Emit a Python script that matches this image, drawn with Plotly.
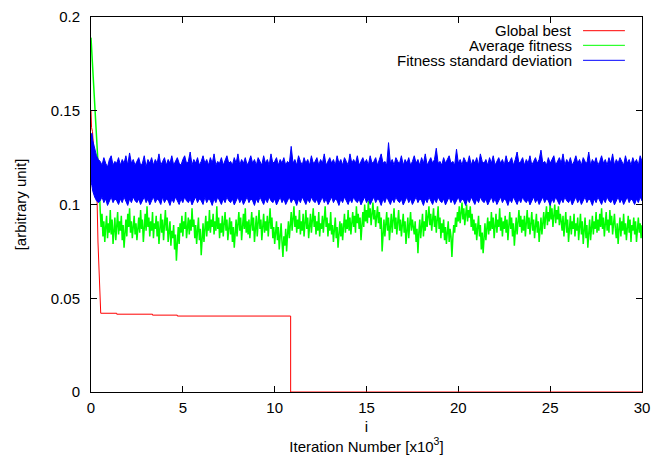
import numpy as np
import plotly.graph_objects as go

# ---------------- data (iteration in units of 10^3) ----------------
# Global best (red)
best_x = [0, 0.03, 0.08, 0.15, 0.25, 0.33, 0.38, 0.45, 0.53, 1.4, 1.4, 3.35, 3.35,
          4.7, 4.7, 10.87, 10.87, 30]
best_y = [0.150, 0.141, 0.139, 0.130, 0.115, 0.103, 0.080, 0.060, 0.042, 0.042, 0.0415,
          0.0415, 0.041, 0.041, 0.0405, 0.0405, 0.0, 0.0]

# Average fitness (green): initial decay, then fluctuating samples every 0.05k from 0.6k to 30k
avg_start_x = [0, 0.1, 0.2, 0.3, 0.4, 0.45, 0.5, 0.55]
avg_start_y = [0.189, 0.172, 0.155, 0.140, 0.125, 0.110, 0.097, 0.088]
avg_noise_y = [
    0.095, 0.083, 0.091, 0.080, 0.088, 0.094, 0.082, 0.090, 0.085, 0.097, 0.084, 0.092, 0.079, 0.087, 0.093, 0.081, 0.089, 0.096, 0.084, 0.091,
    0.086, 0.094, 0.081, 0.089, 0.077, 0.086, 0.092, 0.083, 0.095, 0.088, 0.098, 0.085, 0.091, 0.082, 0.089, 0.094, 0.084, 0.090, 0.081, 0.088,
    0.093, 0.085, 0.097, 0.087, 0.092, 0.080, 0.089, 0.095, 0.086, 0.099, 0.088, 0.093, 0.083, 0.091, 0.086, 0.096, 0.082, 0.090, 0.087, 0.094,
    0.083, 0.091, 0.079, 0.088, 0.095, 0.085, 0.092, 0.081, 0.089, 0.097, 0.086, 0.093, 0.080, 0.087, 0.091, 0.078, 0.086, 0.082, 0.089, 0.076,
    0.084, 0.070, 0.081, 0.088, 0.079, 0.090, 0.085, 0.094, 0.083, 0.091, 0.087, 0.096, 0.082, 0.089, 0.093, 0.084, 0.092, 0.086, 0.098, 0.088,
    0.092, 0.082, 0.089, 0.079, 0.086, 0.093, 0.081, 0.087, 0.073, 0.084, 0.090, 0.080, 0.088, 0.094, 0.083, 0.091, 0.086, 0.097, 0.085, 0.092,
    0.088, 0.095, 0.084, 0.091, 0.086, 0.099, 0.087, 0.093, 0.082, 0.090, 0.085, 0.094, 0.083, 0.089, 0.096, 0.086, 0.092, 0.081, 0.088, 0.093,
    0.084, 0.091, 0.080, 0.088, 0.077, 0.085, 0.092, 0.083, 0.090, 0.096, 0.086, 0.093, 0.081, 0.089, 0.095, 0.087, 0.098, 0.085, 0.091, 0.084,
    0.092, 0.082, 0.089, 0.096, 0.086, 0.093, 0.080, 0.088, 0.094, 0.083, 0.090, 0.097, 0.087, 0.092, 0.081, 0.089, 0.095, 0.085, 0.091, 0.086,
    0.094, 0.083, 0.090, 0.098, 0.087, 0.093, 0.082, 0.088, 0.079, 0.086, 0.091, 0.081, 0.088, 0.076, 0.084, 0.090, 0.080, 0.072, 0.083, 0.078,
    0.087, 0.075, 0.084, 0.091, 0.082, 0.089, 0.096, 0.086, 0.093, 0.099, 0.088, 0.094, 0.085, 0.092, 0.087, 0.097, 0.084, 0.091, 0.086, 0.095,
    0.083, 0.090, 0.097, 0.087, 0.093, 0.082, 0.089, 0.095, 0.085, 0.092, 0.098, 0.088, 0.094, 0.084, 0.091, 0.086, 0.096, 0.083, 0.090, 0.087,
    0.094, 0.085, 0.091, 0.099, 0.088, 0.093, 0.083, 0.090, 0.086, 0.096, 0.084, 0.089, 0.080, 0.087, 0.093, 0.082, 0.088, 0.077, 0.085, 0.091,
    0.083, 0.090, 0.081, 0.088, 0.095, 0.085, 0.092, 0.087, 0.097, 0.086, 0.093, 0.084, 0.091, 0.096, 0.088, 0.094, 0.085, 0.099, 0.090, 0.095,
    0.087, 0.093, 0.081, 0.089, 0.096, 0.088, 0.100, 0.091, 0.097, 0.090, 0.102, 0.093, 0.098, 0.089, 0.095, 0.101, 0.092, 0.097, 0.088, 0.094,
    0.099, 0.090, 0.096, 0.087, 0.093, 0.075, 0.086, 0.092, 0.083, 0.090, 0.096, 0.086, 0.093, 0.081, 0.089, 0.095, 0.085, 0.091, 0.098, 0.087,
    0.093, 0.084, 0.090, 0.097, 0.086, 0.092, 0.083, 0.089, 0.095, 0.085, 0.091, 0.079, 0.087, 0.093, 0.082, 0.090, 0.096, 0.086, 0.092, 0.088,
    0.084, 0.091, 0.080, 0.087, 0.074, 0.085, 0.092, 0.082, 0.089, 0.095, 0.083, 0.091, 0.086, 0.097, 0.088, 0.094, 0.099, 0.089, 0.095, 0.086,
    0.092, 0.098, 0.088, 0.094, 0.085, 0.091, 0.099, 0.087, 0.093, 0.082, 0.090, 0.085, 0.092, 0.081, 0.088, 0.079, 0.086, 0.091, 0.080, 0.087,
    0.083, 0.072, 0.082, 0.089, 0.085, 0.093, 0.088, 0.096, 0.091, 0.099, 0.090, 0.096, 0.101, 0.092, 0.098, 0.089, 0.095, 0.100, 0.091, 0.097,
    0.093, 0.099, 0.088, 0.095, 0.086, 0.092, 0.084, 0.090, 0.081, 0.088, 0.094, 0.083, 0.089, 0.076, 0.085, 0.074, 0.084, 0.090, 0.081, 0.088,
    0.093, 0.084, 0.091, 0.086, 0.096, 0.087, 0.093, 0.082, 0.090, 0.095, 0.085, 0.092, 0.088, 0.098, 0.086, 0.093, 0.083, 0.091, 0.087, 0.094,
    0.085, 0.092, 0.081, 0.089, 0.096, 0.087, 0.093, 0.083, 0.090, 0.078, 0.087, 0.093, 0.084, 0.091, 0.097, 0.088, 0.094, 0.085, 0.092, 0.086,
    0.094, 0.083, 0.090, 0.097, 0.087, 0.093, 0.084, 0.091, 0.096, 0.086, 0.092, 0.082, 0.089, 0.095, 0.085, 0.091, 0.080, 0.088, 0.093, 0.084,
    0.090, 0.096, 0.087, 0.094, 0.099, 0.089, 0.096, 0.091, 0.101, 0.092, 0.098, 0.088, 0.095, 0.100, 0.090, 0.097, 0.092, 0.099, 0.089, 0.095,
    0.091, 0.086, 0.094, 0.083, 0.090, 0.096, 0.085, 0.092, 0.080, 0.088, 0.094, 0.084, 0.091, 0.087, 0.095, 0.083, 0.090, 0.086, 0.093, 0.081,
    0.089, 0.095, 0.084, 0.091, 0.079, 0.087, 0.093, 0.082, 0.089, 0.077, 0.086, 0.092, 0.081, 0.088, 0.094, 0.084, 0.091, 0.087, 0.096, 0.085,
    0.092, 0.086, 0.095, 0.088, 0.098, 0.087, 0.093, 0.083, 0.091, 0.096, 0.086, 0.092, 0.085, 0.097, 0.089, 0.094, 0.084, 0.090, 0.095, 0.087,
    0.082, 0.090, 0.079, 0.087, 0.093, 0.083, 0.091, 0.086, 0.095, 0.084, 0.090, 0.081, 0.088, 0.094, 0.085, 0.092, 0.080, 0.089, 0.086, 0.093,
    0.084, 0.091, 0.080, 0.088, 0.093, 0.085, 0.090, 0.082, 0.089,
]
avg_noise_start, avg_noise_end = 0.6, 30.0

# Fitness standard deviation (blue): upper / lower envelope of the dense band, every 0.1k
std_start_x = [0, 0.05, 0.1, 0.2, 0.3, 0.4]
std_start_hi = [0.137, 0.138, 0.134, 0.130, 0.126, 0.124]
std_start_lo = [0.112, 0.110, 0.107, 0.104, 0.102, 0.101]
std_hi = [
    0.123, 0.121, 0.125, 0.122, 0.120, 0.124, 0.126, 0.121, 0.123, 0.122,
    0.125, 0.121, 0.124, 0.122, 0.126, 0.121, 0.1275, 0.122, 0.124, 0.121,
    0.123, 0.125, 0.121, 0.122, 0.126, 0.120, 0.124, 0.122, 0.125, 0.121,
    0.124, 0.122, 0.127, 0.121, 0.123, 0.125, 0.121, 0.124, 0.122, 0.126,
    0.121, 0.123, 0.125, 0.122, 0.121, 0.124, 0.126, 0.122, 0.123, 0.128,
    0.121, 0.124, 0.122, 0.125, 0.121, 0.123, 0.126, 0.122, 0.124, 0.121,
    0.125, 0.122, 0.127, 0.121, 0.123, 0.122, 0.125, 0.121, 0.124, 0.126,
    0.122, 0.123, 0.121, 0.125, 0.122, 0.127, 0.121, 0.124, 0.122, 0.125,
    0.121, 0.123, 0.126, 0.122, 0.124, 0.121, 0.125, 0.123, 0.121, 0.126,
    0.122, 0.124, 0.121, 0.127, 0.122, 0.123, 0.125, 0.121, 0.124, 0.122,
    0.125, 0.121, 0.123, 0.122, 0.131, 0.122, 0.124, 0.121, 0.126, 0.123,
    0.121, 0.125, 0.122, 0.124, 0.121, 0.126, 0.122, 0.123, 0.125, 0.121,
    0.124, 0.122, 0.127, 0.121, 0.123, 0.125, 0.122, 0.124, 0.121, 0.126,
    0.122, 0.124, 0.121, 0.125, 0.123, 0.121, 0.127, 0.122, 0.124, 0.122,
    0.126, 0.121, 0.123, 0.125, 0.122, 0.124, 0.121, 0.126, 0.122, 0.123,
    0.125, 0.121, 0.124, 0.127, 0.122, 0.123, 0.121, 0.133, 0.122, 0.124,
    0.121, 0.125, 0.123, 0.122, 0.126, 0.121, 0.124, 0.122, 0.125, 0.121,
    0.123, 0.126, 0.122, 0.124, 0.121, 0.125, 0.122, 0.127, 0.121, 0.123,
    0.125, 0.122, 0.124, 0.130, 0.122, 0.123, 0.121, 0.125, 0.122, 0.124,
    0.126, 0.122, 0.123, 0.121, 0.1295, 0.122, 0.124, 0.121, 0.125, 0.123,
    0.122, 0.126, 0.121, 0.124, 0.122, 0.125, 0.121, 0.127, 0.123, 0.122,
    0.124, 0.121, 0.125, 0.122, 0.126, 0.121, 0.123, 0.125, 0.122, 0.124,
    0.121, 0.126, 0.122, 0.123, 0.125, 0.121, 0.124, 0.128, 0.122, 0.123,
    0.125, 0.121, 0.124, 0.122, 0.126, 0.121, 0.123, 0.125, 0.122, 0.124,
    0.129, 0.122, 0.123, 0.121, 0.125, 0.122, 0.124, 0.126, 0.121, 0.123,
    0.125, 0.122, 0.127, 0.121, 0.124, 0.122, 0.125, 0.121, 0.123, 0.126,
    0.122, 0.124, 0.121, 0.125, 0.123, 0.122, 0.128, 0.121, 0.124, 0.122,
    0.125, 0.121, 0.123, 0.126, 0.122, 0.124, 0.121, 0.125, 0.122, 0.127,
    0.121, 0.124, 0.122, 0.125, 0.123, 0.121, 0.126, 0.122, 0.124, 0.121,
    0.125, 0.122, 0.124, 0.121, 0.126, 0.123,
]
std_lo = [
    0.102, 0.104, 0.101, 0.103, 0.0995, 0.102, 0.104, 0.101, 0.103, 0.102,
    0.100, 0.103, 0.101, 0.104, 0.102, 0.0995, 0.103, 0.101, 0.104, 0.102,
    0.101, 0.103, 0.100, 0.102, 0.104, 0.101, 0.103, 0.0998, 0.102, 0.104,
    0.101, 0.103, 0.102, 0.100, 0.104, 0.101, 0.103, 0.102, 0.0995, 0.103,
    0.101, 0.104, 0.102, 0.100, 0.103, 0.101, 0.104, 0.102, 0.101, 0.103,
    0.0998, 0.102, 0.104, 0.101, 0.103, 0.102, 0.100, 0.104, 0.101, 0.103,
    0.102, 0.0995, 0.103, 0.101, 0.104, 0.102, 0.100, 0.103, 0.101, 0.104,
    0.102, 0.101, 0.103, 0.0998, 0.102, 0.104, 0.101, 0.103, 0.100, 0.102,
    0.104, 0.101, 0.103, 0.102, 0.0995, 0.103, 0.101, 0.104, 0.102, 0.100,
    0.103, 0.101, 0.104, 0.102, 0.101, 0.103, 0.0998, 0.102, 0.104, 0.101,
    0.103, 0.100, 0.102, 0.104, 0.101, 0.103, 0.102, 0.0995, 0.103, 0.101,
    0.104, 0.102, 0.100, 0.103, 0.101, 0.104, 0.102, 0.101, 0.103, 0.0998,
    0.102, 0.104, 0.101, 0.103, 0.100, 0.102, 0.104, 0.101, 0.103, 0.102,
    0.0995, 0.103, 0.101, 0.104, 0.102, 0.100, 0.103, 0.101, 0.104, 0.102,
    0.101, 0.103, 0.0998, 0.102, 0.104, 0.101, 0.103, 0.100, 0.102, 0.104,
    0.101, 0.103, 0.102, 0.0995, 0.103, 0.101, 0.104, 0.102, 0.100, 0.103,
    0.101, 0.104, 0.102, 0.101, 0.103, 0.0998, 0.102, 0.104, 0.101, 0.103,
    0.100, 0.102, 0.104, 0.101, 0.103, 0.102, 0.0995, 0.103, 0.101, 0.104,
    0.102, 0.100, 0.103, 0.101, 0.104, 0.102, 0.101, 0.103, 0.0998, 0.102,
    0.104, 0.101, 0.103, 0.100, 0.102, 0.104, 0.101, 0.103, 0.102, 0.0995,
    0.103, 0.101, 0.104, 0.102, 0.100, 0.103, 0.101, 0.104, 0.102, 0.101,
    0.103, 0.0998, 0.102, 0.104, 0.101, 0.103, 0.100, 0.102, 0.104, 0.101,
    0.103, 0.102, 0.0995, 0.103, 0.101, 0.104, 0.102, 0.100, 0.103, 0.101,
    0.104, 0.102, 0.101, 0.103, 0.0998, 0.102, 0.104, 0.101, 0.103, 0.100,
    0.102, 0.104, 0.101, 0.103, 0.102, 0.0995, 0.103, 0.101, 0.104, 0.102,
    0.100, 0.103, 0.101, 0.104, 0.102, 0.101, 0.103, 0.0998, 0.102, 0.104,
    0.101, 0.103, 0.100, 0.102, 0.104, 0.101, 0.103, 0.102, 0.0995, 0.103,
    0.101, 0.104, 0.102, 0.100, 0.103, 0.101, 0.104, 0.102, 0.101, 0.103,
    0.0998, 0.102, 0.104, 0.101, 0.103, 0.100, 0.102, 0.104, 0.101, 0.103,
    0.102, 0.100, 0.103, 0.101, 0.104, 0.102,
]
std_noise_start, std_noise_end = 0.5, 30.0

x_ticks = [0, 5, 10, 15, 20, 25, 30]
y_ticks = [0, 0.05, 0.1, 0.15, 0.2]
y_tick_labels = ["0", "0.05", "0.1", "0.15", "0.2"]

series_names = ["Global best", "Average fitness", "Fitness standard deviation"]
series_colors = ["#ff0000", "#00ff00", "#0000ff"]

# ---------------- build ----------------
avg_noise_x = np.linspace(avg_noise_start, avg_noise_end, len(avg_noise_y))
avg_x = list(avg_start_x) + list(avg_noise_x)
avg_y = list(avg_start_y) + list(avg_noise_y)

std_noise_x = np.linspace(std_noise_start, std_noise_end, len(std_hi))
band_x = list(std_start_x) + list(std_noise_x) + list(std_noise_x[::-1]) + list(std_start_x[::-1])
band_y = list(std_start_hi) + list(std_hi) + list(std_lo[::-1]) + list(std_start_lo[::-1])

FONT = "Liberation Sans, Arial, Helvetica, sans-serif"

fig = go.Figure()
fig.add_trace(go.Scatter(x=best_x, y=best_y, mode="lines", name=series_names[0],
                         line=dict(color=series_colors[0], width=1)))
fig.add_trace(go.Scatter(x=avg_x, y=avg_y, mode="lines", name=series_names[1],
                         line=dict(color=series_colors[1], width=1.5)))
fig.add_trace(go.Scatter(x=band_x, y=band_y, mode="lines", name=series_names[2],
                         fill="toself", fillcolor=series_colors[2],
                         line=dict(color=series_colors[2], width=1)))

# gnuplot-style key: text right-aligned, sample line to its right
key_rows_y = [0.9635, 0.9245, 0.8845]
for name, color, ky in zip(series_names, series_colors, key_rows_y):
    fig.add_annotation(xref="paper", yref="paper", x=0.8766, y=ky, text=name,
                       showarrow=False, xanchor="right", yanchor="middle",
                       height=15, valign="middle",
                       font=dict(size=15, color="#000000", family=FONT))
    fig.add_shape(type="line", xref="paper", yref="paper", x0=0.893, x1=0.969,
                  y0=ky, y1=ky, line=dict(color=color, width=1))

axis_common = dict(showgrid=False, zeroline=False, showline=True, linecolor="#000000",
                   linewidth=1, mirror="ticks", ticks="inside", ticklen=6,
                   tickcolor="#000000", tickwidth=1, automargin=False,
                   tickfont=dict(size=15, color="#000000", family=FONT))

fig.update_layout(
    width=655, height=457,
    margin=dict(l=91, r=13, t=17, b=65),
    paper_bgcolor="white", plot_bgcolor="white",
    showlegend=False,
    font=dict(family=FONT, size=15, color="#000000"),
    xaxis=dict(range=[0, 30], tickvals=x_ticks, ticktext=[str(v) for v in x_ticks],
               ticklabelstandoff=2,
               title=dict(text="i<br>Iteration Number [x10<sup>3</sup>]", standoff=6,
                          font=dict(size=15, color="#000000", family=FONT)),
               layer="below traces", **axis_common),
    yaxis=dict(range=[0, 0.2], tickvals=y_ticks, ticktext=y_tick_labels,
               ticklabelstandoff=7,
               title=dict(text="[arbitrary unit]", standoff=20,
                          font=dict(size=15, color="#000000", family=FONT)),
               **axis_common),
)

fig.write_html("out.html", config={"displayModeBar": False},
               post_script="document.body.style.margin='0';")
